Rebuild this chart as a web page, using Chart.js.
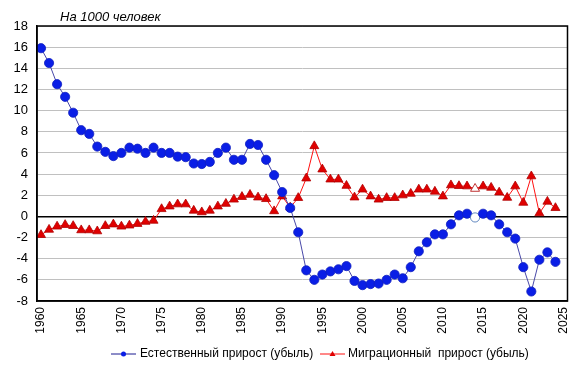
<!DOCTYPE html>
<html><head><meta charset="utf-8">
<script src="https://cdn.jsdelivr.net/npm/chart.js@4/dist/chart.umd.min.js"></script>
<style>html,body{margin:0;padding:0;background:#fff}#wrap{width:584px;height:371px;position:relative}</style>
</head><body><div id="wrap"><canvas id="c" width="584" height="371"></canvas></div>
<script>
const years = [];
for (let y = 1960; y <= 2024; y++) years.push(y);
const naturalGrowth = [15.9,14.5,12.5,11.3,9.8,8.15,7.8,6.6,6.1,5.7,
  6.0,6.5,6.4,6.0,6.5,6.0,6.0,5.65,5.6,5.0,
  4.95,5.15,6.0,6.5,5.35,5.35,6.85,6.75,5.35,3.9,
  2.3,0.8,-1.5,-5.1,-6.0,-5.5,-5.2,-5.0,-4.7,-6.1,
  -6.5,-6.4,-6.35,-6.0,-5.5,-5.85,-4.8,-3.3,-2.45,-1.7,
  -1.7,-0.75,0.1,0.25,-0.1,0.25,0.1,-0.75,-1.5,-2.1,
  -4.8,-7.1,-4.1,-3.4,-4.3];
const migrationGrowth = [-1.75,-1.25,-0.95,-0.8,-0.9,-1.3,-1.3,-1.4,-0.9,-0.75,
  -0.95,-0.85,-0.7,-0.5,-0.4,0.7,0.95,1.15,1.15,0.55,
  0.4,0.55,0.95,1.2,1.6,1.85,2.05,1.8,1.65,0.5,
  1.9,0.85,1.75,3.6,6.65,4.45,3.5,3.5,2.9,1.8,
  2.55,1.9,1.6,1.75,1.75,2.0,2.15,2.55,2.55,2.35,
  1.9,2.95,2.88,2.85,2.62,2.85,2.72,2.27,1.77,2.85,
  1.3,3.8,0.3,1.4,0.8];
const hollowYear = 2014;
const xTickYears = [1960,1965,1970,1975,1980,1985,1990,1995,2000,2005,2010,2015,2020,2025];
const yTicks = [-8,-6,-4,-2,0,2,4,6,8,10,12,14,16,18];
const titleText = 'На 1000 человек';
const seriesNames = ['Естественный прирост (убыль)', 'Миграционный  прирост (убыль)'];

const FONT = 'Liberation Sans, Arial, sans-serif';
const blueFill = '#0a1ee6', blueLine = '#4848a8';
const redFill = '#e00000', redLine = '#ff1010';

function fills(color) { return years.map(y => y === hollowYear ? '#ffffff' : color); }

const decor = {
  id: 'decor',
  afterDraw(chart) {
    const ctx = chart.ctx, a = chart.chartArea;
    ctx.save();
    ctx.strokeStyle = '#000'; ctx.lineWidth = 1.5;
    ctx.strokeRect(a.left, a.top, a.right - a.left, a.bottom - a.top);
    ctx.fillStyle = '#000';
    ctx.font = 'italic 13px ' + FONT;
    ctx.textBaseline = 'middle'; ctx.textAlign = 'left';
    ctx.fillText(titleText, 60, 17);
    ctx.font = '12px ' + FONT;
    const ly = 354;
    ctx.strokeStyle = '#1a1a90'; ctx.lineWidth = 1;
    ctx.beginPath(); ctx.moveTo(111, ly); ctx.lineTo(136, ly); ctx.stroke();
    ctx.fillStyle = blueFill;
    ctx.beginPath(); ctx.arc(123.5, ly, 2.5, 0, Math.PI * 2); ctx.fill();
    ctx.fillStyle = '#000';
    ctx.fillText(seriesNames[0], 140, ly);
    ctx.strokeStyle = redLine;
    ctx.beginPath(); ctx.moveTo(320, ly); ctx.lineTo(345, ly); ctx.stroke();
    ctx.fillStyle = redFill;
    ctx.beginPath(); ctx.moveTo(332.5, ly - 3); ctx.lineTo(335.5, ly + 2); ctx.lineTo(329.5, ly + 2); ctx.closePath(); ctx.fill();
    ctx.fillStyle = '#000';
    ctx.fillText(seriesNames[1], 348, ly);
    ctx.restore();
  }
};

new Chart(document.getElementById('c'), {
  type: 'line',
  data: {
    datasets: [
      {
        label: seriesNames[0],
        data: years.map((y, i) => ({ x: y, y: naturalGrowth[i] })),
        borderColor: blueLine, borderWidth: 1,
        pointStyle: 'circle', pointRadius: 4.6,
        pointBackgroundColor: fills(blueFill),
        pointBorderColor: years.map(y => y === hollowYear ? '#3a6ab0' : '#1020c0'),
        pointBorderWidth: 0.8,
        tension: 0
      },
      {
        label: seriesNames[1],
        data: years.map((y, i) => ({ x: y, y: migrationGrowth[i] })),
        borderColor: redLine, borderWidth: 1,
        pointStyle: 'triangle', pointRadius: 5.2,
        pointBackgroundColor: fills(redFill),
        pointBorderColor: '#b00000',
        pointBorderWidth: 0.8,
        tension: 0
      }
    ]
  },
  options: {
    responsive: false, animation: false,
    layout: { padding: { top: 26, right: 16, left: 0, bottom: 0 } },
    plugins: { legend: { display: false }, tooltip: { enabled: false } },
    scales: {
      x: {
        type: 'linear', min: 1959.5, max: 2025.5,
        afterBuildTicks: s => { s.ticks = xTickYears.map(v => ({ value: v })); },
        afterFit: s => { s.height = 70; },
        grid: { display: false, drawTicks: false },
        border: { display: true, color: '#000', width: 1.5 },
        ticks: {
          minRotation: 90, maxRotation: 90, autoSkip: false, padding: 6,
          color: '#000', font: { family: FONT, size: 12 },
          callback: v => String(v)
        }
      },
      y: {
        min: -8, max: 18,
        afterBuildTicks: s => { s.ticks = yTicks.map(v => ({ value: v })); },
        afterFit: s => { s.width = 37; },
        grid: {
          color: ctx => ctx.tick && ctx.tick.value === 0 ? '#000' : '#c0c0c0',
          lineWidth: ctx => ctx.tick && ctx.tick.value === 0 ? 1.5 : 1,
          drawTicks: false
        },
        border: { display: true, color: '#000', width: 1.5 },
        ticks: { padding: 9, color: '#000', font: { family: FONT, size: 13 } }
      }
    }
  },
  plugins: [decor]
});
</script></body></html>
